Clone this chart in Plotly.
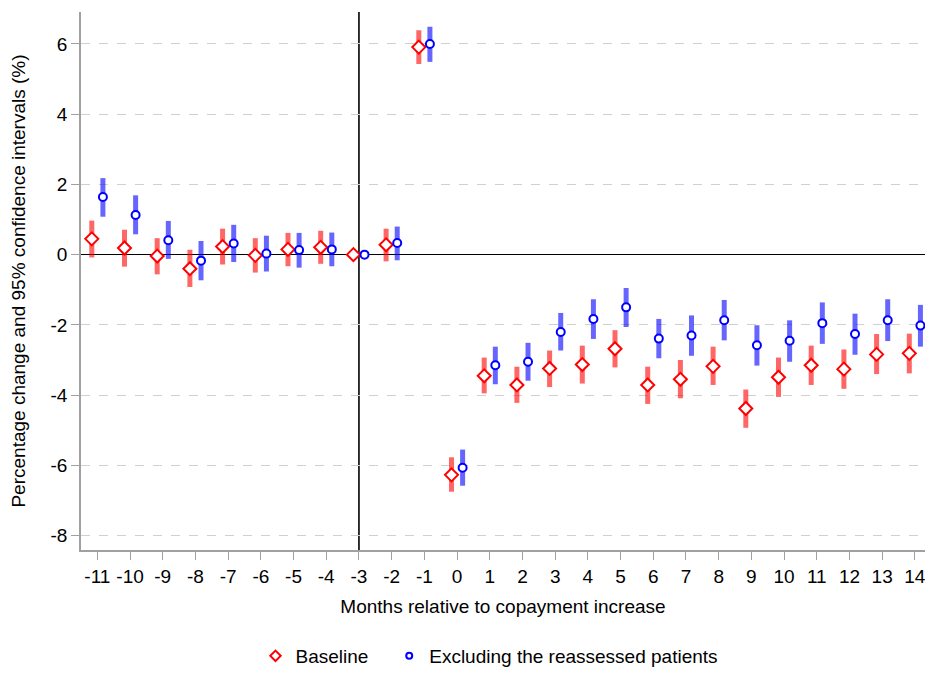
import plotly.graph_objects as go

months = list(range(-11, 15))
tick_labels = [str(m) for m in months]
y_ticks = [-8, -6, -4, -2, 0, 2, 4, 6]
y_tick_labels = [str(v) for v in y_ticks]

base_est = [0.45, 0.19, -0.04, -0.40, 0.23, -0.02, 0.15, 0.21, 0.0, 0.28, 5.91,
            -6.27, -3.45, -3.71, -3.24, -3.13, -2.68, -3.71, -3.55, -3.18, -4.38,
            -3.49, -3.15, -3.26, -2.84, -2.81]
base_hi = [0.97, 0.71, 0.47, 0.14, 0.74, 0.47, 0.62, 0.68, 0.0, 0.74, 6.39,
           -5.77, -2.93, -3.19, -2.73, -2.59, -2.15, -3.19, -3.00, -2.62, -3.84,
           -2.93, -2.59, -2.70, -2.26, -2.25]
base_lo = [-0.08, -0.34, -0.56, -0.92, -0.28, -0.51, -0.33, -0.26, 0.0, -0.19, 5.43,
           -6.75, -3.95, -4.22, -3.77, -3.67, -3.21, -4.25, -4.09, -3.71, -4.93,
           -4.05, -3.71, -3.82, -3.40, -3.38]

excl_est = [1.64, 1.13, 0.41, -0.17, 0.32, 0.03, 0.13, 0.15, 0.0, 0.33, 6.00,
            -6.07, -3.15, -3.05, -2.20, -1.83, -1.50, -2.39, -2.30, -1.87, -2.58,
            -2.45, -1.95, -2.26, -1.87, -2.02]
excl_hi = [2.18, 1.69, 0.96, 0.39, 0.85, 0.54, 0.62, 0.63, 0.0, 0.80, 6.49,
           -5.55, -2.62, -2.51, -1.66, -1.27, -0.95, -1.83, -1.73, -1.29, -2.01,
           -1.87, -1.36, -1.68, -1.27, -1.43]
excl_lo = [1.08, 0.58, -0.12, -0.73, -0.21, -0.48, -0.37, -0.33, 0.0, -0.16, 5.49,
           -6.58, -3.69, -3.59, -2.73, -2.40, -2.06, -2.95, -2.88, -2.44, -3.16,
           -3.05, -2.54, -2.85, -2.46, -2.62]

offset = 0.17
FONT = "Liberation Sans, Arial, Helvetica, sans-serif"
FS = 19

fig = go.Figure()
fig.add_trace(go.Scatter(
    x=[m - offset for m in months], y=base_est, mode="markers", name="Baseline", showlegend=False,
    marker=dict(symbol="diamond", size=10, color="white", line=dict(color="#ff0000", width=2)),
    error_y=dict(type="data", symmetric=False,
                 array=[h - e for h, e in zip(base_hi, base_est)],
                 arrayminus=[e - l for e, l in zip(base_est, base_lo)],
                 color="rgba(255,0,0,0.6)", thickness=5, width=0),
))
fig.add_trace(go.Scatter(
    x=[m + offset for m in months], y=excl_est, mode="markers",
    name="Excluding the reassessed patients", showlegend=False,
    marker=dict(symbol="circle", size=8, color="white", line=dict(color="#0000ff", width=2)),
    error_y=dict(type="data", symmetric=False,
                 array=[h - e for h, e in zip(excl_hi, excl_est)],
                 arrayminus=[e - l for e, l in zip(excl_est, excl_lo)],
                 color="rgba(0,0,255,0.6)", thickness=5, width=0),
))
# legend entries (smaller symbols, as in the reference legend)
fig.add_trace(go.Scatter(
    x=[None], y=[None], mode="markers", name="Baseline   ",
    marker=dict(symbol="diamond", size=8, color="white", line=dict(color="#ff0000", width=2)),
))
fig.add_trace(go.Scatter(
    x=[None], y=[None], mode="markers", name="Excluding the reassessed patients",
    marker=dict(symbol="circle", size=6, color="white", line=dict(color="#0000ff", width=2)),
))

fig.add_shape(type="line", xref="x", yref="paper", x0=-3, x1=-3, y0=0, y1=1,
              line=dict(color="black", width=1.6), layer="below")

fig.update_layout(
    width=925, height=675,
    margin=dict(l=81, r=0, t=12, b=122),
    plot_bgcolor="white", paper_bgcolor="white",
    font=dict(family=FONT, size=FS, color="black"),
    showlegend=True,
    legend=dict(orientation="h", x=0.484, xanchor="center", y=-0.198, yanchor="middle",
                font=dict(size=FS), tracegroupgap=0),
    xaxis=dict(range=[-11.5, 14.31], tickmode="array", tickvals=months, ticktext=tick_labels,
               showgrid=False, zeroline=False, showline=True, linecolor="#a0a0a0", linewidth=1.5,
               ticks="outside", ticklen=8, tickcolor="#a0a0a0", ticklabeloverflow="allow",
               title=dict(text="Months relative to copayment increase", font=dict(size=FS), standoff=14)),
    yaxis=dict(range=[-8.41, 6.91], tickmode="array", tickvals=y_ticks, ticktext=y_tick_labels,
               showgrid=True, gridcolor="#d0d0d0", griddash="dash", gridwidth=1,
               zeroline=True, zerolinecolor="black", zerolinewidth=1.2,
               showline=True, linecolor="#a0a0a0", linewidth=1.5,
               ticks="outside", ticklen=8, tickcolor="#a0a0a0",
               title=dict(text="Percentage change and 95% confidence intervals (%)", font=dict(size=FS), standoff=20)),
)

fig.write_html("out.html")
